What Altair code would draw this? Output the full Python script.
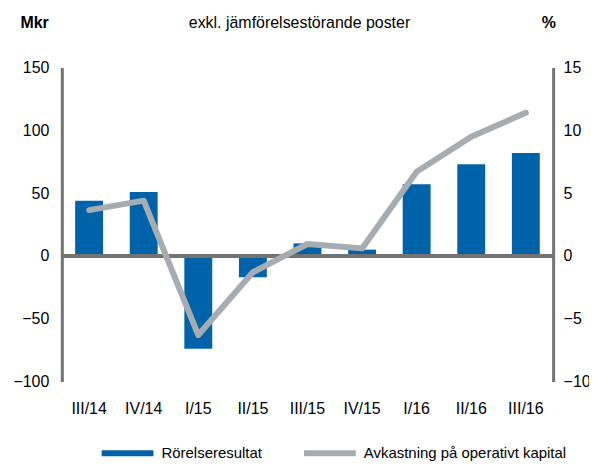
import altair as alt
import pandas as pd

categories = ["III/14", "IV/14", "I/15", "II/15", "III/15", "IV/15", "I/16", "II/16", "III/16"]
rorelseresultat = [44, 51, -74, -17, 10, 5, 57, 73, 82]
avkastning = [3.65, 4.4, -6.3, -1.3, 0.95, 0.6, 6.7, 9.5, 11.4]
series_names = ["Rörelseresultat", "Avkastning på operativt kapital"]
left_ticks = [-100, -50, 0, 50, 100, 150]
right_ticks = [-10, -5, 0, 5, 10, 15]

BLUE = "#0063AA"
GRAY = "#A5ACB2"
AXIS = "#737373"
FONT = "Liberation Sans"

bars_df = pd.DataFrame({"kvartal": categories, "value": rorelseresultat, "series": series_names[0]})
line_df = pd.DataFrame({"kvartal": categories, "value": avkastning, "series": series_names[1]})

xenc = alt.X("kvartal:N", sort=categories,
             scale=alt.Scale(paddingInner=0.49, paddingOuter=0.245),
             axis=alt.Axis(title=None, domain=False, ticks=False, labelAngle=0,
                           labelPadding=19, labelFontSize=16, labelFont=FONT,
                           labelColor="#000000"))

color_scale = alt.Scale(domain=series_names, range=[BLUE, GRAY])
legend = alt.Legend(title=None, orient="none", direction="horizontal",
                    legendX=37, legendY=358,
                    symbolType="stroke", symbolSize=2704,
                    symbolStrokeWidth=6,
                    labelFontSize=15, labelFont=FONT, labelColor="#000000",
                    labelOffset=5, columnPadding=30, labelLimit=400)

bars = alt.Chart(bars_df).mark_bar(size=28, strokeWidth=0).encode(
    x=xenc,
    y=alt.Y("value:Q", scale=alt.Scale(domain=[-100, 150], nice=False),
            axis=alt.Axis(values=left_ticks, orient="left", grid=False,
                          domainColor=AXIS, domainWidth=3, ticks=False,
                          labelPadding=13,
                          labelFontSize=16, labelFont=FONT, labelColor="#000000",
                          title="Mkr", titleAngle=0, titleAlign="left",
                          titleBaseline="middle", titleX=-42, titleY=-45,
                          titleFontSize=16, titleFont=FONT, titleFontWeight="bold",
                          titleColor="#000000")),
    color=alt.Color("series:N", scale=color_scale, legend=legend),
    stroke=alt.Stroke("series:N", scale=color_scale, legend=legend),
)

zero = alt.Chart(bars_df).mark_rule(color=AXIS, strokeWidth=3).encode(
    y=alt.datum(0)
)

left_layer = alt.layer(bars, zero)

line = alt.Chart(line_df).mark_line(strokeWidth=6, strokeCap="round", strokeJoin="round").encode(
    x=alt.X("kvartal:N", sort=categories),
    y=alt.Y("value:Q", scale=alt.Scale(domain=[-10, 15], nice=False),
            axis=alt.Axis(values=right_ticks, orient="right", grid=False,
                          domainColor=AXIS, domainWidth=3, ticks=False,
                          labelPadding=10,
                          labelFontSize=16, labelFont=FONT, labelColor="#000000",
                          title="%", titleAngle=0, titleAlign="left",
                          titleBaseline="middle", titleX=-12, titleY=-45,
                          titleFontSize=16, titleFont=FONT, titleFontWeight="bold",
                          titleColor="#000000")),
    color=alt.Color("series:N", scale=color_scale, legend=legend),
)

chart = alt.layer(left_layer, line).resolve_scale(y="independent").properties(
    width=493, height=315,
    title=alt.TitleParams("exkl. jämförelsestörande poster", fontSize=16, font=FONT,
                          fontWeight="normal", color="#000000", anchor="middle",
                          offset=-16, dx=-8),
    autosize=alt.AutoSizeParams(type="none"),
    padding={"left": 54, "top": 59, "right": 36, "bottom": 80},
).configure_view(stroke=None)

chart.save("out.html", embed_options={"renderer": "svg", "actions": False})
